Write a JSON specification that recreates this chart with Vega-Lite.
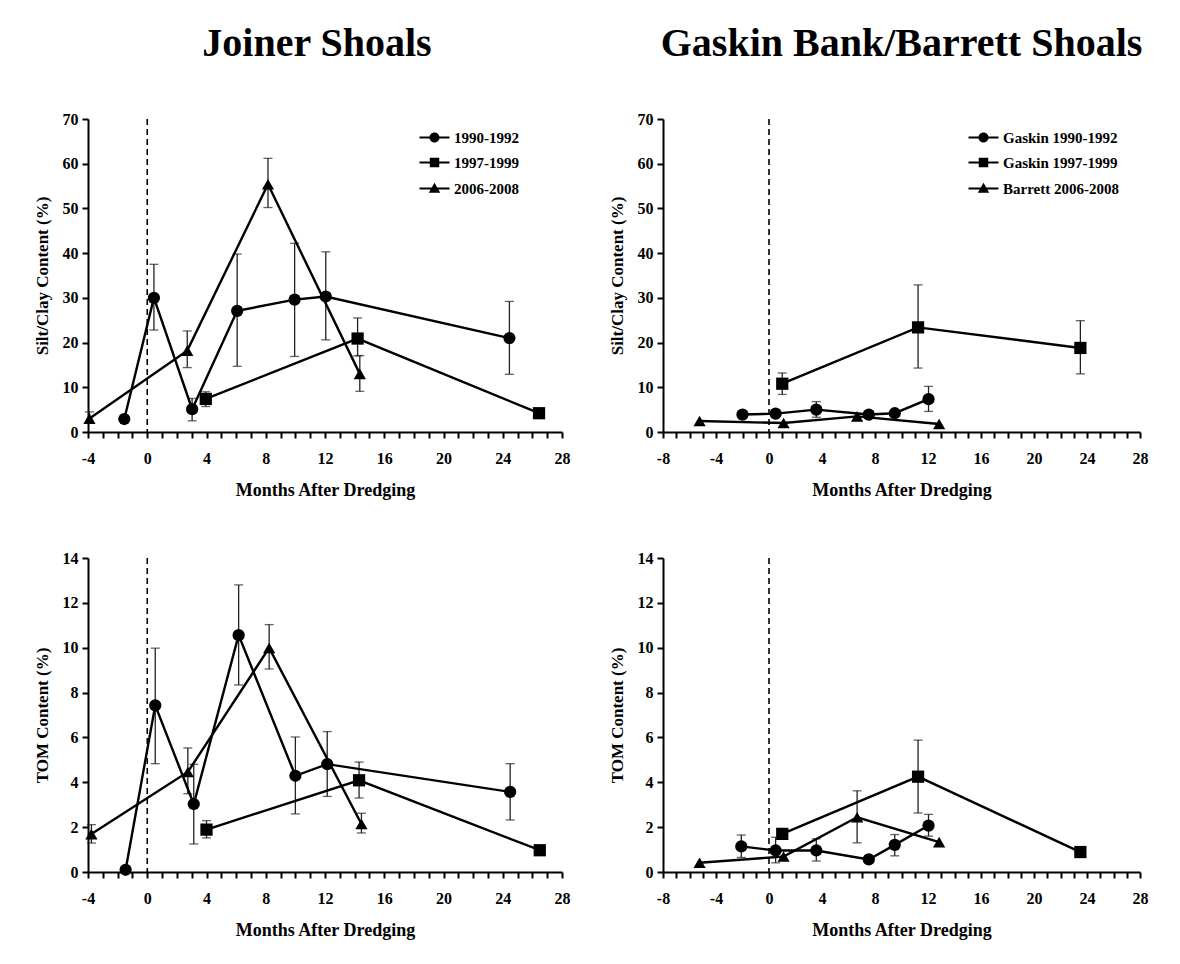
{
  "$schema": "https://vega.github.io/schema/vega-lite/v6.json",
  "background": "white",
  "padding": {"left": 33, "top": 24, "right": 5, "bottom": 5},
  "datasets": {
    "d": [
      {"p":"JS","s":"1990-1992","m":-1.55,"v":2.9},
      {"p":"JS","s":"1990-1992","m":0.45,"v":30.0,"lo":22.8,"hi":37.5},
      {"p":"JS","s":"1990-1992","m":3.03,"v":5.1,"lo":2.5,"hi":7.5},
      {"p":"JS","s":"1990-1992","m":6.07,"v":27.1,"lo":14.7,"hi":39.8},
      {"p":"JS","s":"1990-1992","m":9.95,"v":29.6,"lo":16.9,"hi":42.2},
      {"p":"JS","s":"1990-1992","m":12.05,"v":30.3,"lo":20.6,"hi":40.3},
      {"p":"JS","s":"1990-1992","m":24.45,"v":21.0,"lo":12.9,"hi":29.2},
      {"p":"JS","s":"1997-1999","m":3.95,"v":7.4,"lo":5.7,"hi":9.0},
      {"p":"JS","s":"1997-1999","m":14.2,"v":20.9,"lo":17.0,"hi":25.5},
      {"p":"JS","s":"1997-1999","m":26.45,"v":4.2},
      {"p":"JS","s":"2006-2008","m":-3.9,"v":3.0,"lo":2.0,"hi":4.5},
      {"p":"JS","s":"2006-2008","m":2.7,"v":18.2,"lo":14.4,"hi":22.6},
      {"p":"JS","s":"2006-2008","m":8.15,"v":55.4,"lo":50.2,"hi":61.2},
      {"p":"JS","s":"2006-2008","m":14.35,"v":13.0,"lo":9.1,"hi":17.1},

      {"p":"GS","s":"Gaskin 1990-1992","m":-2.0,"v":3.9},
      {"p":"GS","s":"Gaskin 1990-1992","m":0.5,"v":4.1},
      {"p":"GS","s":"Gaskin 1990-1992","m":3.57,"v":5.0,"lo":3.3,"hi":6.8},
      {"p":"GS","s":"Gaskin 1990-1992","m":7.53,"v":3.9},
      {"p":"GS","s":"Gaskin 1990-1992","m":9.49,"v":4.2},
      {"p":"GS","s":"Gaskin 1990-1992","m":12.04,"v":7.35,"lo":4.6,"hi":10.2},
      {"p":"GS","s":"Gaskin 1997-1999","m":1.0,"v":10.8,"lo":8.4,"hi":13.2},
      {"p":"GS","s":"Gaskin 1997-1999","m":11.25,"v":23.4,"lo":14.3,"hi":32.9},
      {"p":"GS","s":"Gaskin 1997-1999","m":23.5,"v":18.8,"lo":13.0,"hi":24.9},
      {"p":"GS","s":"Barrett 2006-2008","m":-5.24,"v":2.45},
      {"p":"GS","s":"Barrett 2006-2008","m":1.1,"v":2.0},
      {"p":"GS","s":"Barrett 2006-2008","m":6.65,"v":3.5},
      {"p":"GS","s":"Barrett 2006-2008","m":12.84,"v":1.8},

      {"p":"JT","s":"1990-1992","m":-1.46,"v":0.1},
      {"p":"JT","s":"1990-1992","m":0.54,"v":7.43,"lo":4.83,"hi":9.98},
      {"p":"JT","s":"1990-1992","m":3.14,"v":3.03,"lo":1.25,"hi":4.8},
      {"p":"JT","s":"1990-1992","m":6.17,"v":10.56,"lo":8.34,"hi":12.8},
      {"p":"JT","s":"1990-1992","m":10.0,"v":4.29,"lo":2.59,"hi":6.02},
      {"p":"JT","s":"1990-1992","m":12.15,"v":4.81,"lo":3.37,"hi":6.26},
      {"p":"JT","s":"1990-1992","m":24.5,"v":3.57,"lo":2.32,"hi":4.83},
      {"p":"JT","s":"1997-1999","m":4.0,"v":1.89,"lo":1.52,"hi":2.29},
      {"p":"JT","s":"1997-1999","m":14.3,"v":4.09,"lo":3.3,"hi":4.9},
      {"p":"JT","s":"1997-1999","m":26.5,"v":0.97,"lo":0.85,"hi":1.1},
      {"p":"JT","s":"2006-2008","m":-3.77,"v":1.69,"lo":1.29,"hi":2.11},
      {"p":"JT","s":"2006-2008","m":2.74,"v":4.46,"lo":3.49,"hi":5.53},
      {"p":"JT","s":"2006-2008","m":8.23,"v":9.99,"lo":9.05,"hi":11.03},
      {"p":"JT","s":"2006-2008","m":14.46,"v":2.14,"lo":1.74,"hi":2.62},

      {"p":"GT","s":"Gaskin 1990-1992","m":-2.09,"v":1.14,"lo":0.65,"hi":1.65},
      {"p":"GT","s":"Gaskin 1990-1992","m":0.5,"v":0.96,"lo":0.41,"hi":1.55},
      {"p":"GT","s":"Gaskin 1990-1992","m":3.57,"v":0.96,"lo":0.49,"hi":1.48},
      {"p":"GT","s":"Gaskin 1990-1992","m":7.53,"v":0.56},
      {"p":"GT","s":"Gaskin 1990-1992","m":9.49,"v":1.21,"lo":0.72,"hi":1.67},
      {"p":"GT","s":"Gaskin 1990-1992","m":12.04,"v":2.07,"lo":1.6,"hi":2.57},
      {"p":"GT","s":"Gaskin 1997-1999","m":1.0,"v":1.7},
      {"p":"GT","s":"Gaskin 1997-1999","m":11.25,"v":4.25,"lo":2.63,"hi":5.88},
      {"p":"GT","s":"Gaskin 1997-1999","m":23.5,"v":0.89},
      {"p":"GT","s":"Barrett 2006-2008","m":-5.24,"v":0.41},
      {"p":"GT","s":"Barrett 2006-2008","m":1.1,"v":0.69},
      {"p":"GT","s":"Barrett 2006-2008","m":6.65,"v":2.44,"lo":1.3,"hi":3.62},
      {"p":"GT","s":"Barrett 2006-2008","m":12.84,"v":1.33}
    ]
  },
  "config": {
    "font": "Liberation Serif",
    "view": {"stroke": null},
    "axis": {
      "grid": false,
      "ticks": true,
      "domainColor": "black",
      "domainWidth": 2,
      "tickColor": "black",
      "tickWidth": 2,
      "labelFont": "Liberation Serif",
      "labelFontWeight": "bold",
      "labelFontSize": 16,
      "labelColor": "black",
      "titleFont": "Liberation Serif",
      "titleFontWeight": "bold",
      "titleFontSize": 18,
      "titleColor": "black"
    },
    "legend": {
      "labelFont": "Liberation Serif",
      "labelFontWeight": "bold",
      "labelFontSize": 15,
      "labelColor": "black"
    },
    "title": {"font": "Liberation Serif", "fontWeight": "bold", "color": "black"}
  },
  "spacing": 51,
  "resolve": {"scale": {"shape": "independent", "x": "independent", "y": "independent"}, "legend": {"shape": "independent"}},
  "vconcat": [
    {
      "spacing": 38,
      "resolve": {"scale": {"shape": "independent", "x": "independent", "y": "independent"}, "legend": {"shape": "independent"}},
      "hconcat": [
        {
          "width": 474, "height": 313,
          "title": {"text": "Joiner Shoals", "fontSize": 40, "offset": 47, "anchor": "middle", "dx": -8},
          "data": {"name": "d"},
          "resolve": {"scale": {"shape": "independent"}, "legend": {"shape": "independent"}},
          "encoding": {
            "x": {"field": "m", "type": "quantitative", "scale": {"domain": [-4, 28], "nice": false, "zero": false},
              "axis": {"title": "Months After Dredging", "values": [-4,-3,-2,-1,0,1,2,3,4,5,6,7,8,9,10,11,12,13,14,15,16,17,18,19,20,21,22,23,24,25,26,27,28],
                "labelExpr": "datum.value % 4 === 0 ? '' + datum.value : ''",
                "tickSize": 6,
                "labelPadding": 12, "titlePadding": 15, "labelFlush": false, "labelOverlap": false}},
            "y": {"field": "v", "type": "quantitative", "scale": {"domain": [0, 70], "nice": false},
              "axis": {"title": "Silt/Clay Content (%)", "values": [0,10,20,30,40,50,60,70], "tickSize": 6, "labelPadding": 4, "titlePadding": 11, "titleFontSize": 17}}
          },
          "layer": [
            {"data": {"values": [{"z": 0}]}, "mark": {"type": "rule", "strokeDash": [6, 4], "strokeWidth": 1.6, "color": "black"}, "encoding": {"x": {"field": "z", "type": "quantitative"}, "y": null}},
            {"transform": [{"filter": "datum.p === 'JS' && isValid(datum.lo)"}], "mark": {"type": "errorbar", "ticks": true, "color": "#222", "thickness": 1.3, "size": 9}, "encoding": {"y": {"field": "lo", "type": "quantitative"}, "y2": {"field": "hi"}}},
            {"transform": [{"filter": "datum.p === 'JS'"}], "mark": {"type": "line", "color": "black", "strokeWidth": 2.4}, "encoding": {"detail": {"field": "s"}}},
            {"transform": [{"filter": "datum.p === 'JS'"}], "mark": {"type": "point", "filled": true, "color": "black", "opacity": 1, "size": 150},
              "encoding": {"shape": {"field": "s", "type": "nominal", "scale": {"domain": ["1990-1992", "1997-1999", "2006-2008"], "range": ["circle", "square", "triangle-up"]}, "legend": null}}},
            {"transform": [{"filter": "datum.p === 'JS'"}], "mark": {"type": "point", "filled": true, "color": "black", "opacity": 0, "size": 100},
              "encoding": {"shape": {"field": "s", "type": "nominal",
                "scale": {"domain": ["1990-1992", "1997-1999", "2006-2008"], "range": ["M-3,-0.22H3V0.22H-3ZM-1,0A1,1,0,1,1,1,0A1,1,0,1,1,-1,0Z", "M-3,-0.22H3V0.22H-3ZM-0.95,-0.95H0.95V0.95H-0.95Z", "M-3,-0.22H3V0.22H-3ZM0,-1.15L1.15,0.85H-1.15Z"]},
                "legend": {"title": null, "orient": "none", "legendX": 339, "legendY": 11, "padding": 0, "symbolSize": 100, "symbolOpacity": 1, "symbolFillColor": "black", "labelOffset": 12, "rowPadding": 8}}}}
          ]
        },
        {
          "width": 477, "height": 313,
          "title": {"text": "Gaskin Bank/Barrett Shoals", "fontSize": 40, "offset": 47, "anchor": "middle"},
          "data": {"name": "d"},
          "resolve": {"scale": {"shape": "independent"}, "legend": {"shape": "independent"}},
          "encoding": {
            "x": {"field": "m", "type": "quantitative", "scale": {"domain": [-8, 28], "nice": false, "zero": false},
              "axis": {"title": "Months After Dredging", "values": [-8,-7,-6,-5,-4,-3,-2,-1,0,1,2,3,4,5,6,7,8,9,10,11,12,13,14,15,16,17,18,19,20,21,22,23,24,25,26,27,28],
                "labelExpr": "datum.value % 4 === 0 ? '' + datum.value : ''",
                "tickSize": 6,
                "labelPadding": 12, "titlePadding": 15, "labelFlush": false, "labelOverlap": false}},
            "y": {"field": "v", "type": "quantitative", "scale": {"domain": [0, 70], "nice": false},
              "axis": {"title": "Silt/Clay Content (%)", "values": [0,10,20,30,40,50,60,70], "tickSize": 6, "labelPadding": 4, "titlePadding": 11, "titleFontSize": 17}}
          },
          "layer": [
            {"data": {"values": [{"z": 0}]}, "mark": {"type": "rule", "strokeDash": [6, 4], "strokeWidth": 1.6, "color": "black"}, "encoding": {"x": {"field": "z", "type": "quantitative"}, "y": null}},
            {"transform": [{"filter": "datum.p === 'GS' && isValid(datum.lo)"}], "mark": {"type": "errorbar", "ticks": true, "color": "#222", "thickness": 1.3, "size": 9}, "encoding": {"y": {"field": "lo", "type": "quantitative"}, "y2": {"field": "hi"}}},
            {"transform": [{"filter": "datum.p === 'GS'"}], "mark": {"type": "line", "color": "black", "strokeWidth": 2.4}, "encoding": {"detail": {"field": "s"}}},
            {"transform": [{"filter": "datum.p === 'GS'"}], "mark": {"type": "point", "filled": true, "color": "black", "opacity": 1, "size": 150},
              "encoding": {"shape": {"field": "s", "type": "nominal", "scale": {"domain": ["Gaskin 1990-1992", "Gaskin 1997-1999", "Barrett 2006-2008"], "range": ["circle", "square", "triangle-up"]}, "legend": null}}},
            {"transform": [{"filter": "datum.p === 'GS'"}], "mark": {"type": "point", "filled": true, "color": "black", "opacity": 0, "size": 100},
              "encoding": {"shape": {"field": "s", "type": "nominal",
                "scale": {"domain": ["Gaskin 1990-1992", "Gaskin 1997-1999", "Barrett 2006-2008"], "range": ["M-3,-0.22H3V0.22H-3ZM-1,0A1,1,0,1,1,1,0A1,1,0,1,1,-1,0Z", "M-3,-0.22H3V0.22H-3ZM-0.95,-0.95H0.95V0.95H-0.95Z", "M-3,-0.22H3V0.22H-3ZM0,-1.15L1.15,0.85H-1.15Z"]},
                "legend": {"title": null, "orient": "none", "legendX": 313, "legendY": 11, "padding": 0, "symbolSize": 100, "symbolOpacity": 1, "symbolFillColor": "black", "labelOffset": 12, "rowPadding": 8}}}}
          ]
        }
      ]
    },
    {
      "spacing": 38,
      "resolve": {"scale": {"shape": "independent", "x": "independent", "y": "independent"}, "legend": {"shape": "independent"}},
      "hconcat": [
        {
          "width": 474, "height": 314,
          "data": {"name": "d"},
          "encoding": {
            "x": {"field": "m", "type": "quantitative", "scale": {"domain": [-4, 28], "nice": false, "zero": false},
              "axis": {"title": "Months After Dredging", "values": [-4,-3,-2,-1,0,1,2,3,4,5,6,7,8,9,10,11,12,13,14,15,16,17,18,19,20,21,22,23,24,25,26,27,28],
                "labelExpr": "datum.value % 4 === 0 ? '' + datum.value : ''",
                "tickSize": 6,
                "labelPadding": 12, "titlePadding": 15, "labelFlush": false, "labelOverlap": false}},
            "y": {"field": "v", "type": "quantitative", "scale": {"domain": [0, 14], "nice": false},
              "axis": {"title": "TOM Content (%)", "values": [0,2,4,6,8,10,12,14], "tickSize": 6, "labelPadding": 4, "titlePadding": 11, "titleFontSize": 17}}
          },
          "layer": [
            {"data": {"values": [{"z": 0}]}, "mark": {"type": "rule", "strokeDash": [6, 4], "strokeWidth": 1.6, "color": "black"}, "encoding": {"x": {"field": "z", "type": "quantitative"}, "y": null}},
            {"transform": [{"filter": "datum.p === 'JT' && isValid(datum.lo)"}], "mark": {"type": "errorbar", "ticks": true, "color": "#222", "thickness": 1.3, "size": 9}, "encoding": {"y": {"field": "lo", "type": "quantitative"}, "y2": {"field": "hi"}}},
            {"transform": [{"filter": "datum.p === 'JT'"}], "mark": {"type": "line", "color": "black", "strokeWidth": 2.4}, "encoding": {"detail": {"field": "s"}}},
            {"transform": [{"filter": "datum.p === 'JT'"}], "mark": {"type": "point", "filled": true, "color": "black", "opacity": 1, "size": 150},
              "encoding": {"shape": {"field": "s", "type": "nominal", "scale": {"domain": ["1990-1992", "1997-1999", "2006-2008"], "range": ["circle", "square", "triangle-up"]}, "legend": null}}}
          ]
        },
        {
          "width": 477, "height": 314,
          "data": {"name": "d"},
          "encoding": {
            "x": {"field": "m", "type": "quantitative", "scale": {"domain": [-8, 28], "nice": false, "zero": false},
              "axis": {"title": "Months After Dredging", "values": [-8,-7,-6,-5,-4,-3,-2,-1,0,1,2,3,4,5,6,7,8,9,10,11,12,13,14,15,16,17,18,19,20,21,22,23,24,25,26,27,28],
                "labelExpr": "datum.value % 4 === 0 ? '' + datum.value : ''",
                "tickSize": 6,
                "labelPadding": 12, "titlePadding": 15, "labelFlush": false, "labelOverlap": false}},
            "y": {"field": "v", "type": "quantitative", "scale": {"domain": [0, 14], "nice": false},
              "axis": {"title": "TOM Content (%)", "values": [0,2,4,6,8,10,12,14], "tickSize": 6, "labelPadding": 4, "titlePadding": 11, "titleFontSize": 17}}
          },
          "layer": [
            {"data": {"values": [{"z": 0}]}, "mark": {"type": "rule", "strokeDash": [6, 4], "strokeWidth": 1.6, "color": "black"}, "encoding": {"x": {"field": "z", "type": "quantitative"}, "y": null}},
            {"transform": [{"filter": "datum.p === 'GT' && isValid(datum.lo)"}], "mark": {"type": "errorbar", "ticks": true, "color": "#222", "thickness": 1.3, "size": 9}, "encoding": {"y": {"field": "lo", "type": "quantitative"}, "y2": {"field": "hi"}}},
            {"transform": [{"filter": "datum.p === 'GT'"}], "mark": {"type": "line", "color": "black", "strokeWidth": 2.4}, "encoding": {"detail": {"field": "s"}}},
            {"transform": [{"filter": "datum.p === 'GT'"}], "mark": {"type": "point", "filled": true, "color": "black", "opacity": 1, "size": 150},
              "encoding": {"shape": {"field": "s", "type": "nominal", "scale": {"domain": ["Gaskin 1990-1992", "Gaskin 1997-1999", "Barrett 2006-2008"], "range": ["circle", "square", "triangle-up"]}, "legend": null}}}
          ]
        }
      ]
    }
  ]
}
